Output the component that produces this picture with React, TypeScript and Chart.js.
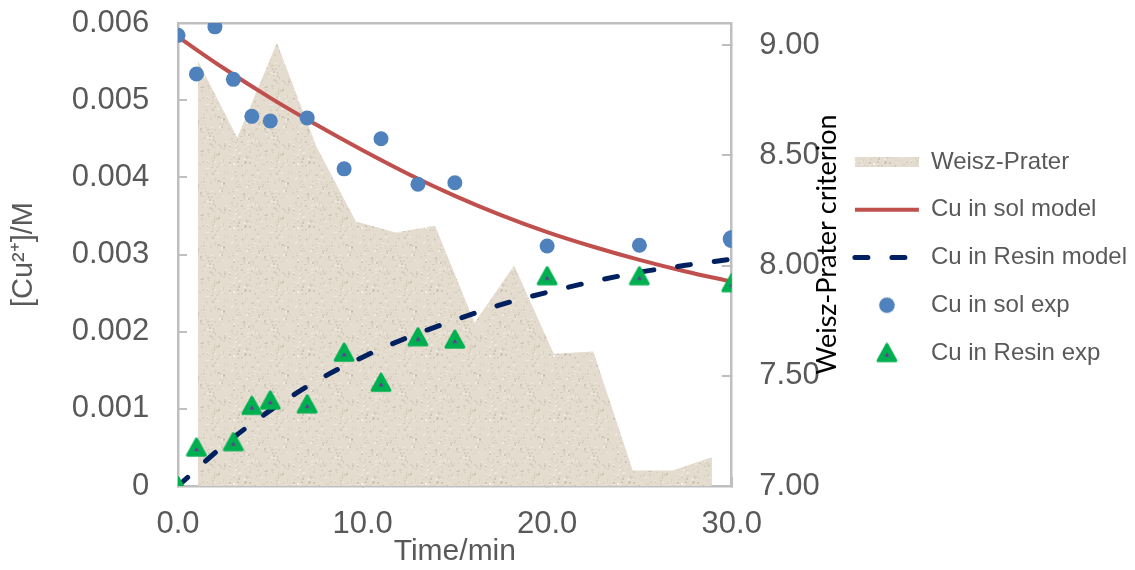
import { useEffect, useRef } from 'react';
import { Chart, registerables } from 'chart.js';

Chart.register(...registerables);

// ---------- data ----------
const solExpTime = [0, 1, 2, 3, 4, 5, 7, 9, 11, 13, 15, 20, 25, 30];
const cuSolExp = [0.00584, 0.00534, 0.00595, 0.00527, 0.00479, 0.00473, 0.00477, 0.00411, 0.0045, 0.00391, 0.00393, 0.00311, 0.00312, 0.0032];

const resinExpTime = [0, 1, 3, 4, 5, 7, 9, 11, 13, 15, 20, 25, 30];
const cuResinExp = [0, 0.0005, 0.00057, 0.00104, 0.00111, 0.00106, 0.00173, 0.00134, 0.00193, 0.0019, 0.00272, 0.00272, 0.00263];

const modelTime = [0, 2.5, 5, 7.5, 10, 12.5, 15, 17.5, 20, 22.5, 25, 27.5, 30];
const cuSolModel = [0.00582, 0.00541, 0.00503, 0.00468, 0.00435, 0.00404, 0.00376, 0.00351, 0.00329, 0.0031, 0.00293, 0.00278, 0.00265];
const cuResinModel = [0, 0.00053, 0.00098, 0.00136, 0.00167, 0.00193, 0.00215, 0.00235, 0.00251, 0.00265, 0.00277, 0.00286, 0.00294];

const wpTime = [1.07, 3.21, 5.36, 7.5, 9.64, 11.79, 13.93, 16.07, 18.21, 20.36, 22.5, 24.64, 26.79, 28.93];
const weiszPrater = [8.93, 8.58, 9.01, 8.54, 8.2, 8.15, 8.18, 7.74, 8.0, 7.6, 7.61, 7.07, 7.07, 7.13];

const xTicks = [0, 10, 20, 30];
const leftTicks = [0, 0.001, 0.002, 0.003, 0.004, 0.005, 0.006];
const rightTicks = [7, 7.5, 8, 8.5, 9];

const seriesLabels = ['Weisz-Prater', 'Cu in sol model', 'Cu in Resin model', 'Cu in sol exp', 'Cu in Resin exp'];
const xTitle = 'Time/min';
const leftTitle = '[Cu²⁺]/M';
const rightTitle = 'Weisz-Prater criterion';

// ---------- styles ----------
const GRAY_TEXT = '#595959';
const AXIS_GRAY = '#BFBFBF';
const RED = '#C0504D';
const NAVY = '#002060';
const BLUE = '#4F81BD';
const GREEN = '#00B050';
const PURPLE = '#7030A0';
const FONT = "'Liberation Sans', Arial, sans-serif";

function hash(n: number) {
  n = (n ^ 61) ^ (n >>> 16);
  n = n + (n << 3);
  n = n ^ (n >>> 4);
  n = Math.imul(n, 0x27d4eb2d);
  n = n ^ (n >>> 15);
  return n >>> 0;
}

function makeTexture(): CanvasPattern | string {
  const c = document.createElement('canvas');
  c.width = 64;
  c.height = 64;
  const g = c.getContext('2d');
  if (!g) return '#E2D9CA';
  g.fillStyle = '#E4DCCE';
  g.fillRect(0, 0, 64, 64);
  for (let i = 0; i < 300; i++) {
    const h = hash(i + 17);
    const x = h % 64;
    const y = (h >>> 6) % 64;
    const k = (h >>> 12) % 4;
    g.fillStyle = k === 0 ? 'rgba(110,95,75,0.16)' : k === 1 ? 'rgba(255,255,255,0.4)' : k === 2 ? 'rgba(170,155,130,0.18)' : 'rgba(205,195,178,0.45)';
    g.fillRect(x, y, 1 + ((h >>> 20) & 1), 1 + ((h >>> 21) & 1));
  }
  return g.createPattern(c, 'repeat') || '#E2D9CA';
}

function makeTriangle(): HTMLCanvasElement {
  const c = document.createElement('canvas');
  c.width = 22;
  c.height = 21;
  const g = c.getContext('2d');
  if (!g) return c;
  g.lineJoin = 'round';
  g.lineWidth = 3.2;
  g.fillStyle = GREEN;
  g.strokeStyle = GREEN;
  g.beginPath();
  g.moveTo(11, 2.2);
  g.lineTo(19.8, 18.2);
  g.lineTo(2.2, 18.2);
  g.closePath();
  g.fill();
  g.stroke();
  g.fillStyle = PURPLE;
  g.beginPath();
  g.moveTo(11, 10.2);
  g.lineTo(13.4, 14.2);
  g.lineTo(8.6, 14.2);
  g.closePath();
  g.fill();
  return c;
}

function makeDot(): HTMLCanvasElement {
  const c = document.createElement('canvas');
  c.width = 18;
  c.height = 18;
  const g = c.getContext('2d');
  if (!g) return c;
  g.fillStyle = BLUE;
  g.beginPath();
  g.arc(9, 9, 7.8, 0, Math.PI * 2);
  g.fill();
  return c;
}

const toXY = (xs: number[], ys: number[]) => ys.map((y, i) => ({ x: xs[i], y }));

const rightTitlePlugin = {
  id: 'rightTitle',
  afterDraw(chart: any) {
    const { ctx, chartArea } = chart;
    const s = chart.scales.y1;
    ctx.save();
    ctx.translate(s.left + 104.3, (chartArea.top + chartArea.bottom) / 2 - 10);
    ctx.rotate(-Math.PI / 2);
    ctx.font = "27px Lato, 'Open Sans', sans-serif";
    ctx.fillStyle = '#000000';
    ctx.textAlign = 'center';
    ctx.textBaseline = 'alphabetic';
    ctx.fillText(rightTitle, 0, 0);
    ctx.restore();
  },
};

const noPadV = (s: any) => {
  s.paddingTop = 0;
  s.paddingBottom = 0;
};
const noPadH = (s: any) => {
  s.paddingLeft = 0;
  s.paddingRight = 0;
};

export default function App() {
  const ref = useRef<HTMLCanvasElement>(null);

  useEffect(() => {
    const canvas = ref.current;
    if (!canvas) return;
    Chart.defaults.font.family = FONT;

    const texture = makeTexture();
    const tri = makeTriangle();
    const dot = makeDot();

    const legendStyles: any[] = [
      { pointStyle: 'rect', fillStyle: texture, strokeStyle: 'rgba(0,0,0,0)', lineWidth: 0 },
      { pointStyle: 'line', fillStyle: RED, strokeStyle: RED, lineWidth: 4, lineCap: 'butt' },
      { pointStyle: 'line', fillStyle: NAVY, strokeStyle: NAVY, lineWidth: 5, lineDash: [13, 24], lineCap: 'round' },
      { pointStyle: dot, fillStyle: BLUE, strokeStyle: BLUE, lineWidth: 0 },
      { pointStyle: tri, fillStyle: GREEN, strokeStyle: GREEN, lineWidth: 0 },
    ];

    const tickGrid = (len: number) => ({
      display: true,
      drawOnChartArea: false,
      drawTicks: true,
      tickLength: len,
      color: AXIS_GRAY,
      lineWidth: 2,
    });
    const border = { display: true, color: AXIS_GRAY, width: 2.5 };
    const tickFont = { size: 31, family: FONT };

    const chart = new Chart(canvas, {
      type: 'line',
      data: {
        datasets: [
          {
            label: seriesLabels[0],
            data: toXY(wpTime, weiszPrater),
            xAxisID: 'x',
            yAxisID: 'y1',
            fill: 'start',
            backgroundColor: texture as any,
            borderColor: 'rgba(0,0,0,0)',
            borderWidth: 0,
            pointRadius: 0,
            tension: 0,
            order: 5,
          },
          {
            label: seriesLabels[1],
            data: toXY(modelTime, cuSolModel),
            xAxisID: 'x',
            yAxisID: 'y',
            borderColor: RED,
            borderWidth: 4,
            pointRadius: 0,
            cubicInterpolationMode: 'monotone',
            fill: false,
            order: 4,
          },
          {
            label: seriesLabels[2],
            data: toXY(modelTime, cuResinModel),
            xAxisID: 'x',
            yAxisID: 'y',
            borderColor: NAVY,
            borderWidth: 5,
            borderDash: [13, 24],
            borderCapStyle: 'round',
            pointRadius: 0,
            cubicInterpolationMode: 'monotone',
            fill: false,
            order: 3,
          },
          {
            label: seriesLabels[3],
            data: toXY(solExpTime, cuSolExp),
            xAxisID: 'x',
            yAxisID: 'y',
            showLine: false,
            pointStyle: 'circle',
            pointRadius: (c: any) => (c.dataIndex === cuSolExp.length - 1 ? 9 : 7.5),
            pointBackgroundColor: BLUE,
            pointBorderWidth: 0,
            borderColor: BLUE,
            backgroundColor: BLUE,
            order: 2,
          },
          {
            label: seriesLabels[4],
            data: toXY(resinExpTime, cuResinExp),
            xAxisID: 'x',
            yAxisID: 'y',
            showLine: false,
            pointStyle: tri as any,
            pointRadius: 10,
            pointBorderWidth: 0,
            borderColor: GREEN,
            backgroundColor: GREEN,
            order: 1,
          },
        ] as any,
      },
      options: {
        animation: false,
        responsive: true,
        maintainAspectRatio: false,
        events: [],
        layout: { padding: { top: 23, right: -2, bottom: 0, left: 0 } },
        plugins: {
          tooltip: { enabled: false },
          legend: {
            display: true,
            position: 'right',
            align: 'center',
            fullSize: false,
            maxWidth: 500,
            title: { display: true, text: ' ', font: { size: 5 }, padding: 0 },
            labels: {
              usePointStyle: true,
              pointStyleWidth: 64,
              boxHeight: 10,
              padding: 23.7,
              color: GRAY_TEXT,
              font: { size: 24, family: FONT },
              generateLabels: (ch: any) =>
                ch.data.datasets.map((ds: any, i: number) => ({
                  text: ds.label,
                  datasetIndex: i,
                  hidden: false,
                  fontColor: GRAY_TEXT,
                  rotation: 0,
                  lineDash: [],
                  ...legendStyles[i],
                })),
            },
          } as any,
        },
        scales: {
          x: {
            type: 'linear',
            position: 'bottom',
            min: 0,
            max: 30,
            afterBuildTicks: (s: any) => {
              s.ticks = xTicks.map((v) => ({ value: v }));
            },
            afterFit: (s: any) => {
              s.height = 84;
              noPadH(s);
            },
            ticks: {
              callback: (v: any) => Number(v).toFixed(1),
              padding: 29,
              color: GRAY_TEXT,
              font: tickFont,
              maxRotation: 0,
              autoSkip: false,
            },
            grid: tickGrid(-9),
            border,
            title: {
              display: true,
              text: xTitle,
              color: GRAY_TEXT,
              font: { size: 30, family: FONT },
              padding: { top: 0, bottom: 0 },
            },
          },
          xTop: {
            type: 'linear',
            position: 'top',
            min: 0,
            max: 30,
            ticks: { display: false },
            grid: { display: false, drawTicks: false },
            border,
            afterFit: (s: any) => {
              s.height = 0;
              noPadH(s);
            },
          },
          y: {
            type: 'linear',
            position: 'left',
            min: 0,
            max: 0.006,
            afterBuildTicks: (s: any) => {
              s.ticks = leftTicks.map((v) => ({ value: v }));
            },
            afterFit: (s: any) => {
              s.width = 178;
              noPadV(s);
            },
            ticks: {
              callback: (v: any) => (Number(v) === 0 ? '0' : Number(v).toFixed(3)),
              padding: 37.7,
              color: GRAY_TEXT,
              font: tickFont,
            },
            grid: tickGrid(-9),
            border,
            title: {
              display: true,
              text: leftTitle,
              color: GRAY_TEXT,
              font: { size: 29, family: FONT },
              padding: { top: 7, bottom: 0 },
            },
          },
          y1: {
            type: 'linear',
            position: 'right',
            min: 7,
            max: 9.1,
            afterBuildTicks: (s: any) => {
              s.ticks = rightTicks.map((v) => ({ value: v }));
            },
            afterFit: (s: any) => {
              s.width = 99.5;
              noPadV(s);
            },
            ticks: {
              callback: (v: any) => Number(v).toFixed(2),
              padding: 37.6,
              color: GRAY_TEXT,
              font: tickFont,
            },
            grid: tickGrid(-10),
            border,
          },
        } as any,
      },
      plugins: [rightTitlePlugin],
    });

    return () => chart.destroy();
  }, []);

  return (
    <div style={{ position: 'absolute', left: 0, top: 0, width: 1135, height: 570, background: '#ffffff' }}>
      <canvas ref={ref} />
    </div>
  );
}
